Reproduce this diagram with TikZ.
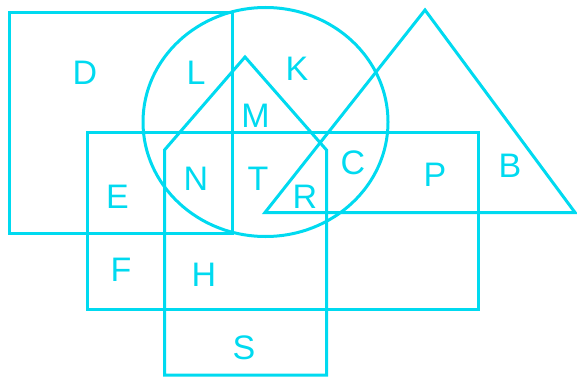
\documentclass[tikz,border=0pt]{standalone}
\usepackage{fontspec}
\setmainfont{Liberation Sans}
\definecolor{venncyan}{RGB}{0,218,240}

\begin{document}
\begin{tikzpicture}[
        x=1pt, y=-1pt,
        region/.style={
            draw=venncyan,
            line width=3pt,
            line join=miter
        },
        tag/.style={
            text=venncyan,
            inner sep=0pt,
            font=\fontsize{34}{34}\selectfont
        }
    ]
        \useasboundingbox (0,0) rectangle (577,377);

        % Set outlines
        \draw[region] (9.5,12.5) rectangle (232.5,233.5);
        \draw[region] (87.5,132.5) rectangle (478.5,309.5);
        \draw[region] (265.5,122) ellipse [x radius=122.5, y radius=114.5];
        \draw[region] (164.5,375) -- (164.5,150) -- (245,57) -- (326.5,150)
            -- (326.5,375) -- cycle;
        \draw[region] (425,10) -- (575,212.5) -- (265,212.5) -- cycle;

        % Region letters
        \node[tag] (d) at (85,72.5) {D};
        \node[tag] (l) at (196,72.5) {L};
        \node[tag] (k) at (297,68.5) {K};
        \node[tag] (m) at (255.5,115.5) {M};
        \node[tag] (n) at (196,179) {N};
        \node[tag] (t) at (258,179) {T};
        \node[tag] (e) at (117.5,197) {E};
        \node[tag] (r) at (305,196.5) {R};
        \node[tag] (c) at (353,162.5) {C};
        \node[tag] (p) at (435,175) {P};
        \node[tag] (b) at (510,166) {B};
        \node[tag] (f) at (121,270) {F};
        \node[tag] (h) at (204,275) {H};
        \node[tag] (s) at (244,347.5) {S};
    \end{tikzpicture}
\end{document}
